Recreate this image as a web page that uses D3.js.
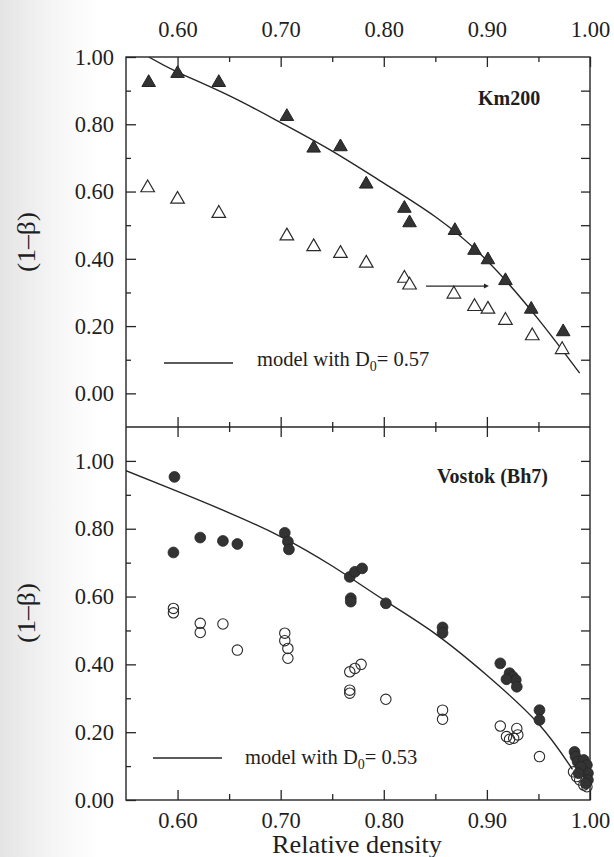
<!DOCTYPE html>
<html>
<head>
<meta charset="utf-8">
<script src="https://cdn.jsdelivr.net/npm/d3@7"></script>
<style>
  html, body { margin: 0; padding: 0; background: #fff; }
  svg { display: block; }
</style>
</head>
<body>
<div id="chart"></div>
<script>
// tick values
const xMajor = [0.6, 0.7, 0.8, 0.9, 1.0];
const xMinor = [0.65, 0.75, 0.85, 0.95];
const yMajor = [0, 0.2, 0.4, 0.6, 0.8, 1.0];
const yMinor = [0.1, 0.3, 0.5, 0.7, 0.9];
const yRightTop = [0, 0.1, 0.2, 0.3, 0.4, 0.5, 0.6, 0.7, 0.8, 0.9];
const yRightBottom = [0.1, 0.2, 0.3, 0.4, 0.5, 0.6, 0.7, 0.8, 0.9, 1.0];

// Km200 : [relative density, 1-beta]
const km200Filled = [
  [0.572, 0.924], [0.600, 0.951], [0.640, 0.924], [0.706, 0.823], [0.732, 0.729],
  [0.758, 0.733], [0.783, 0.622], [0.820, 0.550], [0.825, 0.507], [0.869, 0.484],
  [0.888, 0.425], [0.901, 0.397], [0.918, 0.335], [0.943, 0.250], [0.974, 0.183]
];
const km200Open = [
  [0.571, 0.611], [0.600, 0.577], [0.640, 0.535], [0.706, 0.468], [0.732, 0.436],
  [0.758, 0.416], [0.783, 0.387], [0.820, 0.342], [0.825, 0.322], [0.868, 0.295],
  [0.888, 0.258], [0.901, 0.250], [0.918, 0.217], [0.944, 0.171], [0.973, 0.130]
];
const km200ModelX = [0.572, 0.60, 0.65, 0.70, 0.75, 0.80, 0.85, 0.90, 0.95, 0.99];
const km200ModelY = [1.0, 0.955, 0.885, 0.805, 0.72, 0.625, 0.525, 0.395, 0.22, 0.06];
const km200Arrow = [[0.841, 0.319], [0.902, 0.319]];

// Vostok (Bh7)
const vostokFilled = [
  [0.597, 0.953], [0.596, 0.730], [0.622, 0.774], [0.644, 0.764], [0.658, 0.755],
  [0.704, 0.788], [0.707, 0.762], [0.708, 0.739], [0.767, 0.658], [0.772, 0.673],
  [0.779, 0.683], [0.768, 0.595], [0.768, 0.585], [0.802, 0.580], [0.857, 0.509],
  [0.857, 0.493], [0.913, 0.403], [0.922, 0.374], [0.925, 0.364], [0.928, 0.354],
  [0.929, 0.334], [0.919, 0.356], [0.951, 0.265], [0.951, 0.236], [0.985, 0.142],
  [0.986, 0.128], [0.988, 0.113], [0.994, 0.118], [0.997, 0.103], [0.998, 0.079],
  [0.998, 0.059], [0.996, 0.049], [0.991, 0.098], [0.989, 0.079]
];
const vostokOpen = [
  [0.596, 0.565], [0.596, 0.552], [0.622, 0.521], [0.622, 0.494], [0.644, 0.519],
  [0.658, 0.442], [0.704, 0.492], [0.704, 0.470], [0.707, 0.447], [0.707, 0.418],
  [0.767, 0.378], [0.772, 0.388], [0.778, 0.400], [0.767, 0.324], [0.767, 0.315],
  [0.802, 0.297], [0.857, 0.265], [0.857, 0.238], [0.913, 0.218], [0.919, 0.187],
  [0.922, 0.179], [0.929, 0.211], [0.930, 0.192], [0.926, 0.182], [0.951, 0.128],
  [0.984, 0.083], [0.987, 0.069], [0.990, 0.059], [0.994, 0.044], [0.997, 0.039]
];
const vostokModelX = [0.55, 0.60, 0.65, 0.70, 0.75, 0.80, 0.85, 0.90, 0.95, 0.983];
const vostokModelY = [0.971, 0.91, 0.847, 0.777, 0.69, 0.59, 0.49, 0.368, 0.225, 0.09];

const w = 614;
const h = 857;
const plotLeft = 126;
const plotRight = 590;
const plotTop = 57;
const plotMid = 427;
const plotBottom = 800;
const ink = "#262626";
const serif = "'Liberation Serif', 'DejaVu Serif', serif";

const svg = d3
  .select("#chart")
  .append("svg")
  .attr("width", w)
  .attr("height", h);

// scanned page shade on the left edge
const defs = svg.append("defs");
const grad = defs.append("linearGradient").attr("id", "shade");
grad.append("stop").attr("offset", "0%").attr("stop-color", "#e4e4e4");
grad.append("stop").attr("offset", "9%").attr("stop-color", "#f6f6f6");
grad.append("stop").attr("offset", "16%").attr("stop-color", "#ffffff");
svg.append("rect").attr("width", w).attr("height", h).attr("fill", "url(#shade)");

const xScale = d3.scaleLinear().domain([0.55, 1.0]).range([plotLeft, plotRight]);
const yTop = d3.scaleLinear().domain([-0.1, 1.0]).range([plotMid, plotTop]);
const yBottom = d3.scaleLinear().domain([0, 1.1]).range([plotBottom, plotMid]);

const fmt = d3.format(".2f");

const drawAxis = (axis, transform) => {
  const g = svg
    .append("g")
    .attr("transform", transform)
    .call(axis);
  g.select(".domain").remove();
  g.attr("font-family", serif).attr("font-size", 22.5);
  g.selectAll("line").attr("stroke", ink).attr("stroke-width", 1.3);
  g.selectAll("text").attr("fill", "#1e1e1e");
  return g;
};

// top axis with labels
drawAxis(
  d3.axisTop(xScale).tickValues(xMajor).tickFormat(fmt).tickSize(-10).tickPadding(20),
  `translate(0,${plotTop})`
);
drawAxis(d3.axisTop(xScale).tickValues(xMinor).tickFormat("").tickSize(-5), `translate(0,${plotTop})`);

// shared middle line, ticks both ways
drawAxis(d3.axisBottom(xScale).tickValues(xMajor.slice(0, 4)).tickFormat("").tickSize(-10), `translate(0,${plotMid})`);
drawAxis(d3.axisBottom(xScale).tickValues(xMinor).tickFormat("").tickSize(-5), `translate(0,${plotMid})`);
drawAxis(d3.axisTop(xScale).tickValues(xMajor.slice(0, 4)).tickFormat("").tickSize(-10), `translate(0,${plotMid})`);
drawAxis(d3.axisTop(xScale).tickValues(xMinor).tickFormat("").tickSize(-5), `translate(0,${plotMid})`);

// bottom axis with labels
drawAxis(
  d3.axisBottom(xScale).tickValues(xMajor).tickFormat(fmt).tickSize(-10).tickPadding(12),
  `translate(0,${plotBottom})`
);
drawAxis(d3.axisBottom(xScale).tickValues(xMinor).tickFormat("").tickSize(-6), `translate(0,${plotBottom})`);

// y axes, both panels
[yTop, yBottom].forEach((y, i) => {
  drawAxis(
    d3.axisLeft(y).tickValues(yMajor).tickFormat(fmt).tickSize(-10).tickPadding(12),
    `translate(${plotLeft},0)`
  );
  drawAxis(d3.axisLeft(y).tickValues(yMinor).tickFormat("").tickSize(-5), `translate(${plotLeft},0)`);
  drawAxis(
    d3.axisRight(y).tickValues(i === 0 ? yRightTop : yRightBottom).tickFormat("").tickSize(-9),
    `translate(${plotRight},0)`
  );
});

// frame
svg
  .append("rect")
  .attr("x", plotLeft)
  .attr("y", plotTop)
  .attr("width", plotRight - plotLeft)
  .attr("height", plotBottom - plotTop)
  .attr("fill", "none")
  .attr("stroke", ink)
  .attr("stroke-width", 1.4);
svg
  .append("line")
  .attr("x1", plotLeft)
  .attr("x2", plotRight)
  .attr("y1", plotMid)
  .attr("y2", plotMid)
  .attr("stroke", ink)
  .attr("stroke-width", 1.4);

// y titles
[242, 613].forEach((cy) => {
  svg
    .append("text")
    .attr("transform", `translate(35,${cy}) rotate(-90)`)
    .attr("text-anchor", "middle")
    .attr("font-family", serif)
    .attr("font-size", 25)
    .attr("fill", "#1e1e1e")
    .attr("textLength", 60)
    .attr("lengthAdjust", "spacingAndGlyphs")
    .text("(1–β)");
});

svg
  .append("text")
  .attr("x", 357)
  .attr("y", 853)
  .attr("text-anchor", "middle")
  .attr("font-family", serif)
  .attr("font-size", 25)
  .attr("fill", "#1e1e1e")
  .attr("textLength", 170)
  .attr("lengthAdjust", "spacingAndGlyphs")
  .text("Relative density");

// clip regions
defs
  .append("clipPath")
  .attr("id", "clipTop")
  .append("rect")
  .attr("x", plotLeft)
  .attr("y", plotTop)
  .attr("width", plotRight - plotLeft)
  .attr("height", plotMid - plotTop);
defs
  .append("clipPath")
  .attr("id", "clipBottom")
  .append("rect")
  .attr("x", plotLeft)
  .attr("y", plotMid)
  .attr("width", plotRight - plotLeft)
  .attr("height", plotBottom - plotMid);

// model curves
const drawModel = (xs, ys, y, clip) => {
  const line = d3
    .line()
    .x((d) => xScale(d[0]))
    .y((d) => y(d[1]))
    .curve(d3.curveNatural);
  svg
    .append("path")
    .attr("clip-path", `url(#${clip})`)
    .attr("d", line(d3.zip(xs, ys)))
    .attr("fill", "none")
    .attr("stroke", ink)
    .attr("stroke-width", 1.4);
};
drawModel(km200ModelX, km200ModelY, yTop, "clipTop");
drawModel(vostokModelX, vostokModelY, yBottom, "clipBottom");

// Km200 triangles
const tri = d3.symbol().type(d3.symbolTriangle).size(80);
svg
  .append("g")
  .selectAll("path")
  .data(km200Open)
  .enter()
  .append("path")
  .attr("d", tri)
  .attr("transform", (d) => `translate(${xScale(d[0])},${yTop(d[1])})`)
  .attr("fill", "#fff")
  .attr("stroke", "#2a2a2a")
  .attr("stroke-width", 1.2);
svg
  .append("g")
  .selectAll("path")
  .data(km200Filled)
  .enter()
  .append("path")
  .attr("d", tri)
  .attr("transform", (d) => `translate(${xScale(d[0])},${yTop(d[1])})`)
  .attr("fill", "#333")
  .attr("stroke", "#222")
  .attr("stroke-width", 1);

// arrow
const ax1 = xScale(km200Arrow[0][0]);
const ax2 = xScale(km200Arrow[1][0]);
const ay = yTop(km200Arrow[0][1]);
svg
  .append("line")
  .attr("x1", ax1)
  .attr("x2", ax2 - 3)
  .attr("y1", ay)
  .attr("y2", ay)
  .attr("stroke", ink)
  .attr("stroke-width", 1.3);
svg
  .append("path")
  .attr("d", `M${ax2 - 5},${ay - 2.5}L${ax2},${ay}L${ax2 - 5},${ay + 2.5}Z`)
  .attr("fill", ink);

// Vostok circles
svg
  .append("g")
  .selectAll("circle")
  .data(vostokOpen)
  .enter()
  .append("circle")
  .attr("cx", (d) => xScale(d[0]))
  .attr("cy", (d) => yBottom(d[1]))
  .attr("r", 5.2)
  .attr("fill", "none")
  .attr("stroke", "#2a2a2a")
  .attr("stroke-width", 1.1);
svg
  .append("g")
  .selectAll("circle")
  .data(vostokFilled)
  .enter()
  .append("circle")
  .attr("cx", (d) => xScale(d[0]))
  .attr("cy", (d) => yBottom(d[1]))
  .attr("r", 5.4)
  .attr("fill", "#333")
  .attr("stroke", "#262626")
  .attr("stroke-width", 0.8);

// panel names
svg
  .append("text")
  .attr("x", 478)
  .attr("y", 105)
  .attr("font-family", serif)
  .attr("font-weight", "bold")
  .attr("font-size", 20)
  .attr("fill", "#1e1e1e")
  .text("Km200");
svg
  .append("text")
  .attr("x", 437)
  .attr("y", 483)
  .attr("font-family", serif)
  .attr("font-weight", "bold")
  .attr("font-size", 20)
  .attr("fill", "#1e1e1e")
  .text("Vostok (Bh7)");

// legends
const legend = (x1, x2, ly, tx, ty, value) => {
  svg
    .append("line")
    .attr("x1", x1)
    .attr("x2", x2)
    .attr("y1", ly)
    .attr("y2", ly)
    .attr("stroke", ink)
    .attr("stroke-width", 1.3);
  const t = svg
    .append("text")
    .attr("x", tx)
    .attr("y", ty)
    .attr("font-family", serif)
    .attr("font-size", 20.5)
    .attr("fill", "#1e1e1e");
  t.append("tspan").text("model with D");
  t.append("tspan").attr("font-size", 14).attr("dy", 5).text("0");
  t.append("tspan").attr("dy", -5).text("= " + value);
};
legend(164, 233, 363, 257, 366, "0.57");
legend(153, 222, 758, 245, 764, "0.53");
</script>
</body>
</html>
